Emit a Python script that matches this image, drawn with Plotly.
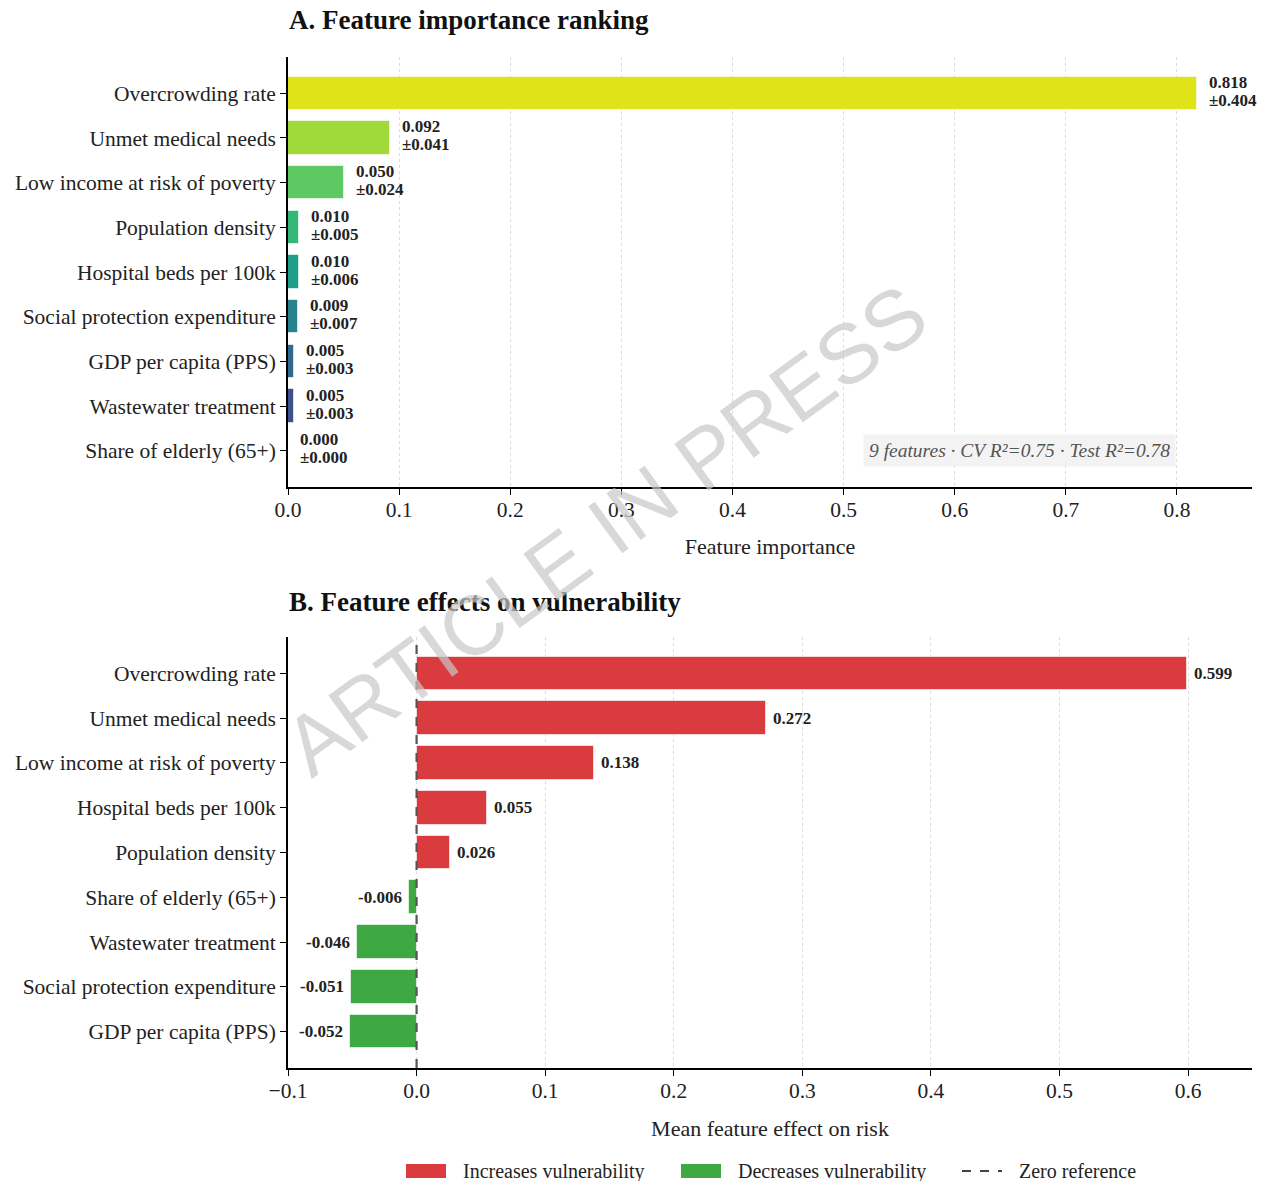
import plotly.graph_objects as go
from plotly.subplots import make_subplots

# ---- Panel A: permutation feature importance ----
imp_features = [
    "Overcrowding rate", "Unmet medical needs", "Low income at risk of poverty",
    "Population density", "Hospital beds per 100k", "Social protection expenditure",
    "GDP per capita (PPS)", "Wastewater treatment", "Share of elderly (65+)",
]
imp_mean = [0.818, 0.092, 0.050, 0.010, 0.010, 0.009, 0.005, 0.005, 0.000]
imp_std = [0.404, 0.041, 0.024, 0.005, 0.006, 0.007, 0.003, 0.003, 0.000]
imp_colors = ["#dfe318", "#9fda3a", "#5ec962", "#35b779", "#1f9e89",
              "#26828e", "#31688e", "#3b528b", "#46337e"]

# ---- Panel B: signed mean feature effect ----
eff_features = [
    "Overcrowding rate", "Unmet medical needs", "Low income at risk of poverty",
    "Hospital beds per 100k", "Population density", "Share of elderly (65+)",
    "Wastewater treatment", "Social protection expenditure", "GDP per capita (PPS)",
]
eff_values = [0.599, 0.272, 0.138, 0.055, 0.026, -0.006, -0.046, -0.051, -0.052]

summary_text = "9 features · CV R²=0.75 · Test R²=0.78"

RED = "#d93b3f"
GREEN = "#3ea843"
FONT = "Liberation Serif"
W, H = 1266, 1181
ML, MR = 288, 14


def px_x(v):
    # paper x spans the plotting area between the left and right margins
    return (v - ML) / (W - ML - MR)


def px_y(v):
    return 1 - v / H


fig = make_subplots(rows=2, cols=1)

fig.add_trace(go.Bar(
    x=imp_mean, y=imp_features, orientation="h", width=0.75,
    marker=dict(color=imp_colors, line=dict(color="rgba(255,255,255,0.6)", width=1)),
    showlegend=False, hoverinfo="x+y",
), row=1, col=1)

eff_colors = [RED if v > 0 else GREEN for v in eff_values]
fig.add_trace(go.Bar(
    x=eff_values, y=eff_features, orientation="h", width=0.75,
    marker=dict(color=eff_colors, line=dict(color="rgba(255,255,255,0.6)", width=1)),
    showlegend=False, hoverinfo="x+y",
), row=2, col=1)

axis_common = dict(
    showline=True, linecolor="black", linewidth=1.8,
    ticks="outside", ticklen=6, tickwidth=1.4, tickcolor="black",
    tickfont=dict(family=FONT, size=21.5, color="#222"),
    zeroline=False,
)

cat_range = [len(imp_features) - 0.1875, -0.8125]

xgrid = dict(showgrid=True, gridcolor="#dcdcdc", griddash="dot", gridwidth=1)

fig.update_layout(
    width=W, height=H,
    margin=dict(l=ML, r=MR, t=0, b=0),
    plot_bgcolor="white", paper_bgcolor="white",
    font=dict(family=FONT, color="#222"),
    bargap=0,
    xaxis=dict(
        **axis_common, **xgrid, domain=[0, 1], range=[0, 0.8675], dtick=0.1, tickformat=".1f",
        ticklabelstandoff=-4,
        title=dict(text="Feature importance", font=dict(family=FONT, size=22, color="#222"), standoff=18),
    ),
    yaxis=dict(
        **axis_common, domain=[px_y(487), px_y(57)], type="category",
        categoryorder="array", categoryarray=imp_features, range=cat_range,
        showgrid=False,
    ),
    xaxis2=dict(
        **axis_common, **xgrid, domain=[0, 1], range=[-0.1, 0.6497], dtick=0.1, tickformat=".1f",
        ticklabelstandoff=-4,
        title=dict(text="Mean feature effect on risk", font=dict(family=FONT, size=22, color="#222"), standoff=19),
    ),
    yaxis2=dict(
        **axis_common, domain=[px_y(1068), px_y(637)], type="category",
        categoryorder="array", categoryarray=eff_features, range=cat_range,
        showgrid=False,
    ),
)

annotations = []

# Panel titles
annotations.append(dict(text="<b>A. Feature importance ranking</b>", xref="paper", yref="paper",
                        x=px_x(287), y=px_y(20), xanchor="left", yanchor="middle", showarrow=False,
                        font=dict(family=FONT, size=27, color="#111")))
annotations.append(dict(text="<b>B. Feature effects on vulnerability</b>", xref="paper", yref="paper",
                        x=px_x(287), y=px_y(602), xanchor="left", yanchor="middle", showarrow=False,
                        font=dict(family=FONT, size=27, color="#111")))

# Value labels, panel A (mean on the first line, spread on the second)
label_font = dict(family=FONT, size=17, color="#222", weight="bold")
for feat, m, s in zip(imp_features, imp_mean, imp_std):
    annotations.append(dict(text=f"{m:.3f}", x=m, y=feat, xref="x", yref="y",
                            xanchor="left", yanchor="middle", xshift=10, yshift=11,
                            showarrow=False, font=label_font))
    annotations.append(dict(text=f"±{s:.3f}", x=m, y=feat, xref="x", yref="y",
                            xanchor="left", yanchor="middle", xshift=10, yshift=-7,
                            showarrow=False, font=label_font))

# Value labels, panel B
for feat, v in zip(eff_features, eff_values):
    annotations.append(dict(text=f"{v:.3f}", x=v, y=feat, xref="x2", yref="y2",
                            xanchor="left" if v > 0 else "right", yanchor="middle",
                            xshift=5 if v > 0 else -5, showarrow=False,
                            font=label_font))

# Model summary box
annotations.append(dict(text=f"<i>{summary_text}</i>", xref="paper", yref="paper",
                        x=px_x(1176), y=px_y(451), xanchor="right", yanchor="middle", showarrow=False,
                        bgcolor="#f3f3f3", borderpad=5,
                        font=dict(family=FONT, size=19.5, color="#555")))

# Legend entries
legend_items = [
    ("Increases vulnerability", 406, "rect", RED),
    ("Decreases vulnerability", 681, "rect", GREEN),
    ("Zero reference", 962, "line", "#444"),
]
shapes = []
ly = 1171
for label, x0, kind, col in legend_items:
    if kind == "rect":
        shapes.append(dict(type="rect", xref="paper", yref="paper",
                           x0=px_x(x0), x1=px_x(x0 + 40), y0=px_y(ly + 7), y1=px_y(ly - 7),
                           fillcolor=col, line=dict(width=0)))
    else:
        shapes.append(dict(type="line", xref="paper", yref="paper",
                           x0=px_x(x0), x1=px_x(x0 + 40), y0=px_y(ly), y1=px_y(ly),
                           line=dict(color=col, width=2.2, dash="dash")))
    annotations.append(dict(text=label, xref="paper", yref="paper", x=px_x(x0 + 55), y=px_y(ly),
                            xanchor="left", yanchor="middle", showarrow=False,
                            font=dict(family=FONT, size=20, color="#222")))

# Zero reference line in panel B
shapes.append(dict(type="line", xref="x2", yref="y2 domain", x0=0, x1=0, y0=0, y1=1,
                   line=dict(color="#555", width=2.2, dash="dash"), layer="above"))

# Watermark
annotations.append(dict(text="ARTICLE IN PRESS", xref="paper", yref="paper",
                        x=px_x(605), y=px_y(530), xanchor="center", yanchor="middle",
                        textangle=-36, showarrow=False,
                        font=dict(family="Liberation Sans", size=84, color="rgba(200,200,200,0.7)")))

fig.update_layout(annotations=annotations, shapes=shapes)

fig.write_html("out.html")
